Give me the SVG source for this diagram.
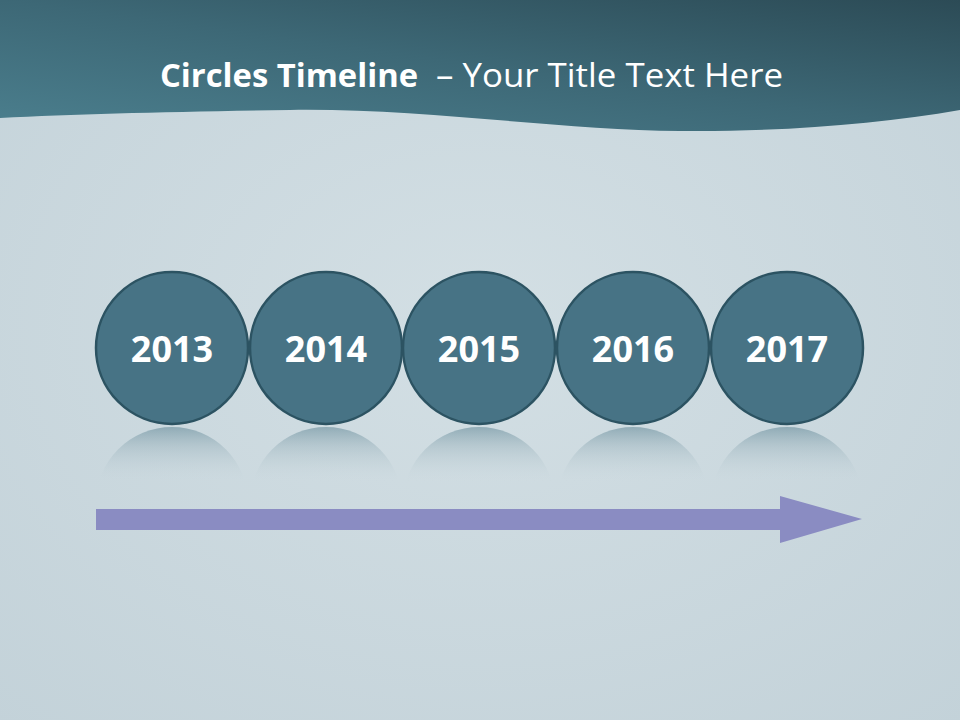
<svg xmlns="http://www.w3.org/2000/svg" width="960" height="720" viewBox="0 0 960 720">
<style>
.yr{font-family:"Open Sans","Liberation Sans",sans-serif;font-weight:bold;font-size:36px;fill:#ffffff;text-anchor:middle}
.ttl{font-family:"Open Sans","Liberation Sans",sans-serif;font-size:32px;fill:#ffffff}
.node circle.main{fill:#477385;stroke:#2c5362;stroke-width:2.5}
.refl{fill:url(#reflG)}
</style>
<defs>
<radialGradient id="bgG" cx="0.5" cy="0.45" r="0.75">
<stop offset="0" stop-color="#d3dfe4"/>
<stop offset="1" stop-color="#c3d2d9"/>
</radialGradient>
<linearGradient id="hdrG" x1="0" y1="1" x2="1" y2="0">
<stop offset="0" stop-color="#4b7f8e"/>
<stop offset="0.5" stop-color="#3d6876"/>
<stop offset="1" stop-color="#2c4b56"/>
</linearGradient>
<linearGradient id="reflG" x1="0" y1="427" x2="0" y2="482" gradientUnits="userSpaceOnUse">
<stop offset="0" stop-color="#5e8594" stop-opacity="0.55"/>
<stop offset="0.35" stop-color="#8aa6b1" stop-opacity="0.35"/>
<stop offset="1" stop-color="#c9d7dd" stop-opacity="0"/>
</linearGradient>
</defs>
<rect x="0" y="0" width="960" height="720" fill="url(#bgG)"/>
<path d="M0,0 H960 V110 C880,124 780,132 680,131 C560,130 420,108 290,110 C170,112 80,114 0,118 Z" fill="url(#hdrG)"/>
<text class="ttl" y="87"><tspan x="160" font-weight="bold" textLength="258" lengthAdjust="spacingAndGlyphs">Circles Timeline</tspan><tspan x="436" textLength="347" lengthAdjust="spacingAndGlyphs">– Your Title Text Here</tspan></text>
<g id="connectors">
<path d="M96,509 H780 V496 L862,519 L780,543 V530 H96 Z" fill="#8a8cc2"/>
</g>
<g id="node-2013" class="node">
<path class="refl" d="M96,503 A76,76 0 0 1 248,503 Z"/>
<circle class="main" cx="172" cy="348" r="76"/>
<text class="yr" x="172" y="362">2013</text>
</g>
<g id="node-2014" class="node">
<path class="refl" d="M250,503 A76,76 0 0 1 402,503 Z"/>
<circle class="main" cx="326" cy="348" r="76"/>
<text class="yr" x="326" y="362">2014</text>
</g>
<g id="node-2015" class="node">
<path class="refl" d="M403,503 A76,76 0 0 1 555,503 Z"/>
<circle class="main" cx="479" cy="348" r="76"/>
<text class="yr" x="479" y="362">2015</text>
</g>
<g id="node-2016" class="node">
<path class="refl" d="M557,503 A76,76 0 0 1 709,503 Z"/>
<circle class="main" cx="633" cy="348" r="76"/>
<text class="yr" x="633" y="362">2016</text>
</g>
<g id="node-2017" class="node">
<path class="refl" d="M711,503 A76,76 0 0 1 863,503 Z"/>
<circle class="main" cx="787" cy="348" r="76"/>
<text class="yr" x="787" y="362">2017</text>
</g>
</svg>
